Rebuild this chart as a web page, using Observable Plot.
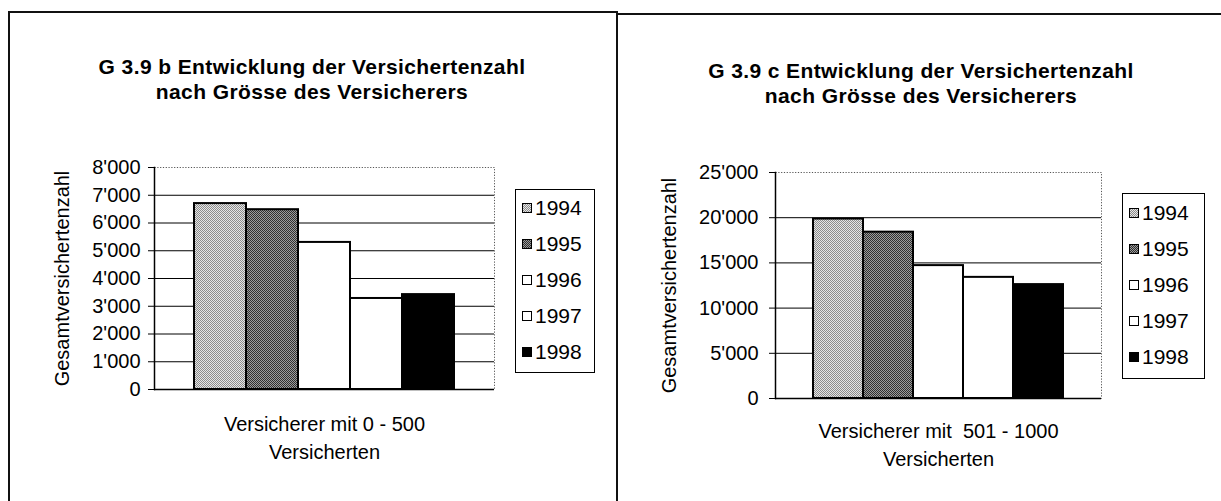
<!DOCTYPE html>
<html>
<head>
<meta charset="utf-8">
<script src="https://cdn.jsdelivr.net/npm/d3@7"></script>
<script src="https://cdn.jsdelivr.net/npm/@observablehq/plot@0.6"></script>
<style>
  html, body { margin: 0; padding: 0; background: #fff; }
  body { width: 1221px; height: 501px; position: relative; overflow: hidden;
         font-family: "Liberation Sans", Arial, Helvetica, sans-serif; color: #000; }
  .panel { position: absolute; box-sizing: border-box; border-top: 2px solid #111; border-left: 2px solid #111; }
  .title { position: absolute; width: 600px; text-align: center; font-weight: bold;
           font-size: 21px; line-height: 25px; letter-spacing: 0.4px; }
  .chart { position: absolute; }
  .legend { position: absolute; box-sizing: border-box; border: 1.5px solid #000; background: #fff; }
  .legend .row { position: absolute; left: 0; height: 36px; display: flex; align-items: center; font-size: 21px; }
  .legend .sw { width: 8px; height: 8px; border: 1.5px solid #000; margin-right: 3px; }
</style>
</head>
<body>
<svg width="0" height="0" style="position:absolute">
  <defs>
    <pattern id="pat1994" width="2" height="2" patternUnits="userSpaceOnUse">
      <rect width="2" height="2" fill="#e6e6e6"></rect>
      <rect width="1" height="1" fill="#8c8c8c"></rect>
      <rect x="1" y="1" width="1" height="1" fill="#8c8c8c"></rect>
    </pattern>
    <pattern id="pat1995" width="2" height="2" patternUnits="userSpaceOnUse">
      <rect width="2" height="2" fill="#9c9c9c"></rect>
      <rect width="1" height="1" fill="#303030"></rect>
      <rect x="1" y="1" width="1" height="1" fill="#303030"></rect>
    </pattern>
  </defs>
</svg>

<div class="panel" style="left:8px; top:11px; width:610px; height:490px;"></div>
<div class="panel" style="left:616px; top:13px; width:605px; height:488px;"></div>

<div id="titleL" class="title" style="left:12px; top:54px;"></div>
<div id="titleR" class="title" style="left:621px; top:58px;"></div>

<div id="chartL" class="chart" style="left:20px; top:140px;"></div>
<div id="chartR" class="chart" style="left:630px; top:140px;"></div>

<div id="legendL" class="legend" style="left:515px; top:189px; width:80px; height:184px;"></div>
<div id="legendR" class="legend" style="left:1122px; top:193px; width:83px; height:186px;"></div>

<script>
// ---------- data ----------
const years = ["1994", "1995", "1996", "1997", "1998"];
const seriesFills = ["url(#pat1994)", "url(#pat1995)", "#ffffff", "#ffffff", "#000000"];

const leftTitle = ["G 3.9 b Entwicklung der Versichertenzahl", "nach Grösse des Versicherers"];
const leftCategory = ["Versicherer mit 0 - 500\nVersicherten"];
const leftValues = [6700, 6480, 5300, 3280, 3420];
const leftTicks = [0, 1000, 2000, 3000, 4000, 5000, 6000, 7000, 8000];
const leftTickLabels = ["0", "1'000", "2'000", "3'000", "4'000", "5'000", "6'000", "7'000", "8'000"];

const rightTitle = ["G 3.9 c Entwicklung der Versichertenzahl", "nach Grösse des Versicherers"];
const rightCategory = ["Versicherer mit  501 - 1000\nVersicherten"];
const rightValues = [19850, 18400, 14700, 13400, 12600];
const rightTicks = [0, 5000, 10000, 15000, 20000, 25000];
const rightTickLabels = ["0", "5'000", "10'000", "15'000", "20'000", "25'000"];

const yLabel = "Gesamtversichertenzahl";

// ---------- drawing ----------
function makeChart(o) {
  const data = years.map((yr, i) => ({cat: o.category[0], year: yr, value: o.values[i]}));
  const yMax = o.ticks[o.ticks.length - 1];
  return Plot.plot({
    width: o.width, height: o.height,
    marginLeft: o.ml, marginRight: o.mr, marginTop: o.mt, marginBottom: o.mb,
    style: {fontFamily: "'Liberation Sans', Arial, sans-serif", fontSize: "20px", color: "#000", background: "none", overflow: "visible"},
    fx: {domain: o.category, padding: 0, label: null},
    x: {domain: years, paddingInner: 0, paddingOuter: 0.75, axis: null},
    y: {domain: [0, yMax]},
    color: {type: "ordinal", domain: years, range: seriesFills},
    marks: [
      Plot.frame({stroke: "#555", strokeDasharray: "1.2,1.6", strokeWidth: 1}),
      Plot.ruleY(o.ticks.slice(1, -1), {stroke: "#000", strokeWidth: 1}),
      Plot.barY(data, {fx: "cat", x: "year", y: "value", fill: "year", stroke: "#000", strokeWidth: 2, inset: 0}),
      Plot.axisY({ticks: o.ticks, tickFormat: d => o.tickLabels[o.ticks.indexOf(d)],
                  tickSize: 6, tickPadding: o.tp, fontSize: 20,
                  label: yLabel, labelArrow: "none", labelAnchor: "center", labelOffset: o.lo}),
      Plot.axisFx({anchor: "bottom", tickSize: 0, tickPadding: o.fxp, fontSize: 20, lineHeight: 1.4, label: null}),
      Plot.frame({anchor: "left", stroke: "#000", strokeWidth: 1.5}),
      Plot.ruleY([0], {stroke: "#000", strokeWidth: 1.5})
    ]
  });
}

function makeTitle(el, lines) {
  el.innerHTML = "";
  lines.forEach(t => { const d = document.createElement("div"); d.textContent = t; el.appendChild(d); });
}

function makeLegend(el, rowTop) {
  years.forEach((yr, i) => {
    const row = document.createElement("div");
    row.className = "row";
    row.style.top = (rowTop + i * 36) + "px";
    row.style.left = "6px";
    const sw = document.createElement("span");
    sw.className = "sw";
    const svg = d3.create("svg").attr("width", 8).attr("height", 8).style("display", "block");
    svg.append("rect").attr("width", 8).attr("height", 8).attr("fill", seriesFills[i]);
    sw.appendChild(svg.node());
    const tx = document.createElement("span");
    tx.textContent = yr;
    row.appendChild(sw); row.appendChild(tx);
    el.appendChild(row);
  });
}

makeTitle(document.getElementById("titleL"), leftTitle);
makeTitle(document.getElementById("titleR"), rightTitle);

document.getElementById("chartL").appendChild(makeChart({
  category: leftCategory, values: leftValues, ticks: leftTicks, tickLabels: leftTickLabels,
  width: 490, height: 330, ml: 134, mr: 16, mt: 27, mb: 81, tp: 8, lo: 100, fxp: 22
}));
document.getElementById("chartR").appendChild(makeChart({
  category: rightCategory, values: rightValues, ticks: rightTicks, tickLabels: rightTickLabels,
  width: 490, height: 340, ml: 145, mr: 19, mt: 32, mb: 82, tp: 11, lo: 114, fxp: 20
}));

makeLegend(document.getElementById("legendL"), 0);
makeLegend(document.getElementById("legendR"), 1);
</script>
</body>
</html>
